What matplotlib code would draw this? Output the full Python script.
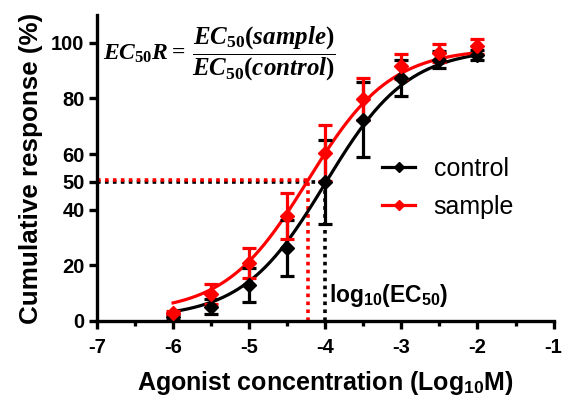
import numpy as np
import matplotlib
matplotlib.use("Agg")
import matplotlib.pyplot as plt
from matplotlib.ticker import MultipleLocator

plt.rcParams['font.family'] = ['Liberation Sans', 'DejaVu Sans']
plt.rcParams['axes.unicode_minus'] = False
plt.rcParams['mathtext.fontset'] = 'custom'
plt.rcParams['mathtext.rm'] = 'Liberation Serif:bold'
plt.rcParams['mathtext.it'] = 'Liberation Serif:italic:bold'
plt.rcParams['mathtext.bf'] = 'Liberation Serif:bold'
plt.rcParams['mathtext.sf'] = 'Liberation Sans:bold'

# ---- data ----
log_conc = [-6, -5.5, -5, -4.5, -4, -3.5, -3, -2.5, -2]
control_mean = [1.5, 5.2, 12.9, 26.2, 50.0, 72.3, 87.3, 93.9, 95.7]
control_err = [1.0, 2.8, 6.0, 10.0, 15.0, 13.5, 6.5, 3.0, 1.8]
sample_mean = [2.8, 9.7, 21.0, 37.8, 60.4, 79.7, 91.5, 96.3, 98.7]
sample_err = [0.8, 3.6, 5.4, 8.3, 10.1, 7.5, 4.4, 3.2, 2.6]

# fitted curve parameters (bottom, top, logEC50, hill)
control_fit = (1.0, 98.0, -4.0, 0.8)
sample_fit = (3.0, 98.0, -4.23, 0.8)

xticks = [-7, -6, -5, -4, -3, -2, -1]
yticks = [0, 20, 40, 50, 60, 80, 100]


def logistic(x, p):
    b, t, ec, h = p
    return b + (t - b) / (1 + 10 ** ((ec - x) * h))


fig = plt.figure(figsize=(5.63, 3.99), dpi=100)
ax = fig.add_axes([0.1723, 0.1955, 0.811, 0.767])

xs = np.linspace(-6, -2, 300)

# dotted reference lines
dot = (0, (1, 1.2))
ax.plot([-7, control_fit[2]], [50, 50], color='black', ls=dot, lw=2.6, zorder=2)
ax.plot([control_fit[2], control_fit[2]], [0, 50], color='black', ls=dot, lw=2.6, zorder=2)
ax.plot([-7, sample_fit[2]], [50.7, 50.7], color='red', ls=dot, lw=2.6, zorder=2)
ax.plot([sample_fit[2], sample_fit[2]], [0, 50.7], color='red', ls=dot, lw=2.6, zorder=2)

for mean, err, fit, col, lab in [(control_mean, control_err, control_fit, 'black', 'control'),
                                 (sample_mean, sample_err, sample_fit, 'red', 'sample')]:
    ax.plot(xs, logistic(xs, fit), color=col, lw=2.3, zorder=3)
    ax.errorbar(log_conc, mean, yerr=err, fmt='D', color=col, ms=7.5, elinewidth=2.3,
                capsize=5, capthick=2.3, zorder=4)
    ax.plot([], [], color=col, lw=2.3, marker='D', ms=5, label=lab)

ax.set_xlim(-7, -1)
ax.set_ylim(0, 110)
ax.set_xticks(xticks)
ax.set_yticks(yticks)
ax.xaxis.set_minor_locator(MultipleLocator(0.5))

for s in ['top', 'right']:
    ax.spines[s].set_visible(False)
for s in ['left', 'bottom']:
    ax.spines[s].set_linewidth(2.4)

ax.tick_params(axis='both', which='major', length=6, width=2.4, labelsize=14.5)
ax.tick_params(axis='x', which='major', pad=6)
ax.tick_params(axis='y', which='major', pad=3)
ax.tick_params(axis='x', which='minor', length=3.5, width=2.4)
for lbl in ax.get_xticklabels() + ax.get_yticklabels():
    lbl.set_fontweight('bold')

ax.set_ylabel('Cumulative response (%)', fontsize=18.7, fontweight='bold', labelpad=6)
ax.set_xlabel(r'Agonist concentration (Log$_{\mathsf{10}}$M)', fontsize=18, fontweight='bold',
              labelpad=9)

leg = ax.legend(loc='upper left', bbox_to_anchor=(382 / 563, 1 - 157 / 399),
                bbox_transform=fig.transFigure, frameon=False, fontsize=18,
                handlelength=1.32, labelspacing=0.55, handletextpad=0.75,
                borderpad=0, borderaxespad=0)

ax.text(-3.95, 9, r'log$_{\mathsf{10}}$(EC$_{\mathsf{50}}$)', fontsize=16.5, fontweight='bold',
        ha='left', va='center')

ax.text(-6.92, 96, r'$EC_{50}R =$', fontsize=17, ha='left', va='center')
ax.text(-5.75, 96, r'$\dfrac{EC_{50}(sample)}{EC_{50}(control)}$', fontsize=18,
        ha='left', va='center')

fig.savefig('out.png', dpi=100)
